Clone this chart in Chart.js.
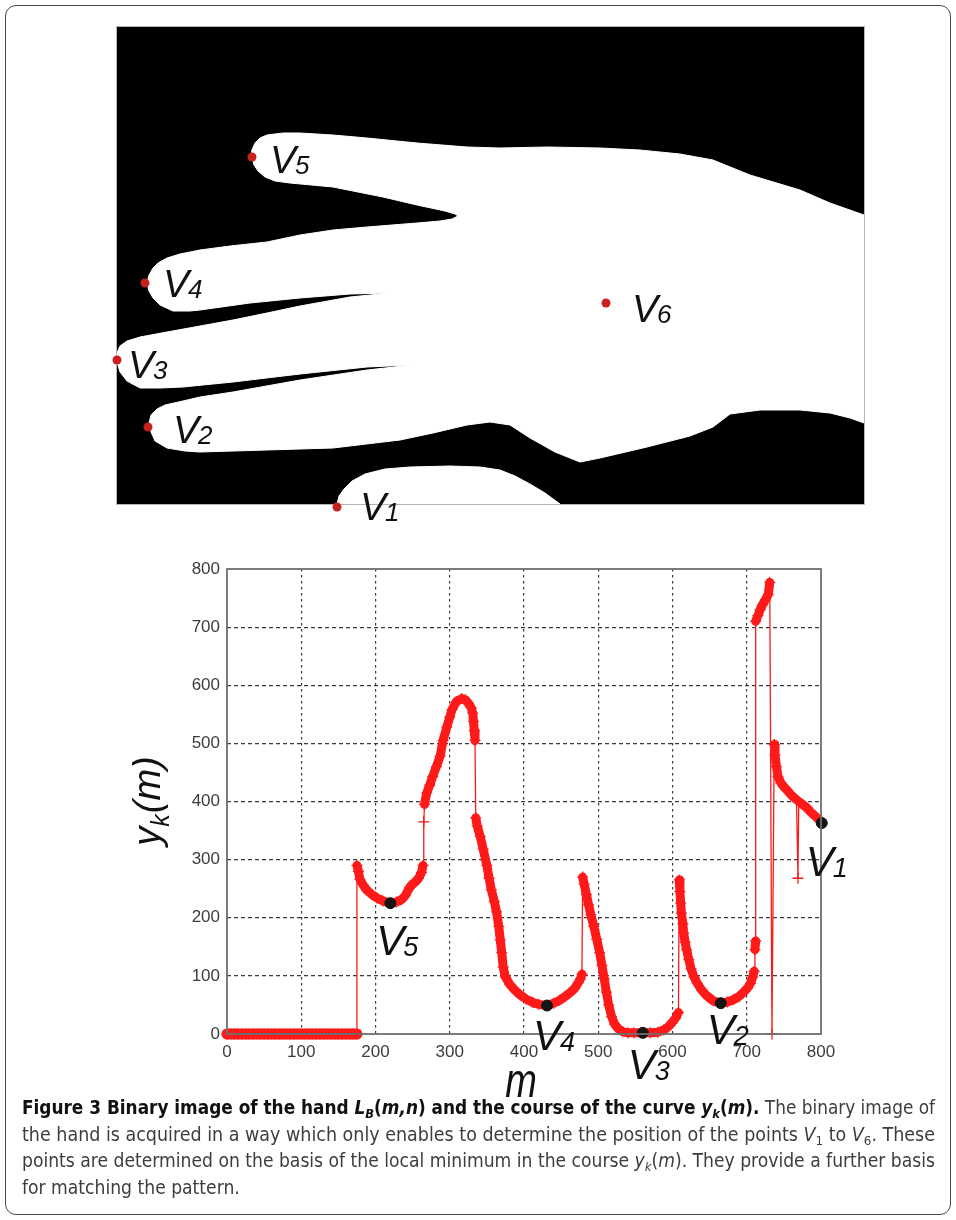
<!DOCTYPE html>
<html>
<head>
<meta charset="utf-8">
<script src="https://cdn.jsdelivr.net/npm/chart.js@4.4.0/dist/chart.umd.min.js"></script>
<style>
    html, body { margin: 0; padding: 0; background: #fff; }
    body { width: 956px; height: 1220px; position: relative; overflow: hidden; font-family: "Liberation Sans", Arial, sans-serif; }
    #frame { position: absolute; left: 5px; top: 5px; width: 946px; height: 1210px; border: 1.5px solid #4a4a4a; border-radius: 11px; box-sizing: border-box; }
    #handWrap { position: absolute; left: 100px; top: 20px; width: 800px; height: 510px; }
    #curveWrap { position: absolute; left: 100px; top: 540px; width: 800px; height: 570px; }
    #caption { position: absolute; left: 22px; top: 1094px; width: 930px; font-family: "Liberation Sans Narrow", "DejaVu Sans Condensed", "Liberation Sans", sans-serif; font-size: 19px; line-height: 26.7px; color: #3d3d3d; }
    #caption .ln { white-space: nowrap; display: block; width: max-content; transform-origin: 0 0; }
    #caption b { color: #111; }
    #caption sub { font-size: 0.68em; vertical-align: -0.28em; line-height: 0; }
</style>
</head>
<body>
<div id="frame"></div>
<div id="handWrap"><canvas id="handChart"></canvas></div>
<div id="curveWrap"><canvas id="curveChart"></canvas></div>
<div id="caption">
    <span class="ln full"><b>Figure 3 Binary image of the hand <i>L</i><sub><i>B</i></sub>(<i>m,n</i>) and the course of the curve <i>y</i><sub><i>k</i></sub>(<i>m</i>).</b> The binary image of</span>
    <span class="ln full">the hand is acquired in a way which only enables to determine the position of the points <i>V</i><sub>1</sub> to <i>V</i><sub>6</sub>. These</span>
    <span class="ln full">points are determined on the basis of the local minimum in the course <i>y</i><sub><i>k</i></sub>(<i>m</i>). They provide a further basis</span>
    <span class="ln">for matching the pattern.</span>
</div>

<script>
// ---- binary hand image (pixel coords inside the 747x477 image) ----
const handOutlineX = [747, 713, 683, 663, 633, 596, 563, 523, 483, 430, 383, 350, 300, 250, 216, 183, 166, 150, 143, 138, 135, 135, 137, 141, 148, 158, 173, 216, 266, 300, 328, 338, 341, 335, 323, 300, 250, 216, 183, 150, 113, 83, 63, 50, 41, 36, 32, 30, 32, 36, 43, 56, 73, 83, 133, 183, 233, 273, 233, 183, 150, 116, 83, 50, 23, 10, 3, 0, 0, 3, 10, 23, 43, 66, 116, 183, 250, 295, 250, 183, 116, 83, 66, 48, 40, 34, 32, 34, 38, 50, 68, 83, 150, 216, 283, 316, 350, 373, 393, 413, 438, 463, 483, 530, 573, 596, 613, 643, 683, 713, 733, 747, 747];
const handOutlineY = [188, 176, 163, 157, 148, 133, 127, 123, 121, 120, 121, 120, 116, 111, 108, 106, 106, 108, 111, 116, 123, 130, 138, 144, 150, 154, 156, 160, 170, 178, 184, 187, 189, 192, 194, 196, 200, 203, 208, 215, 219, 223, 227, 231, 236, 241, 248, 256, 264, 271, 278, 284, 284, 283, 276, 271, 267, 266, 270, 279, 286, 293, 299, 305, 310, 314, 319, 326, 335, 345, 354, 361, 361, 360, 355, 347, 340, 338, 343, 353, 365, 370, 374, 378, 382, 388, 396, 405, 414, 421, 424, 425, 423, 421, 413, 406, 398, 395, 398, 411, 425, 435, 431, 420, 409, 400, 387, 383, 383, 386, 391, 396, 188];
const thumbX = [220, 222, 227, 235, 248, 268, 293, 333, 363, 383, 398, 413, 428, 443, 220];
const thumbY = [477, 469, 462, 454, 447, 442, 440, 439, 440, 443, 449, 457, 466, 477, 477];
const handPointNames = ['5', '4', '3', '2', '1', '6'];
const handPointX = [135, 28, 0, 31, 220, 489];
const handPointY = [130, 256, 333, 400, 480, 276];

// ---- curve y_k(m) ----
const curveM = [0, 5, 10, 15, 20, 25, 30, 35, 40, 45, 50, 55, 60, 65, 70, 75, 80, 85, 90, 95, 100, 105, 110, 115, 120, 125, 130, 135, 140, 145, 150, 155, 160, 165, 170, 175,
    175, 177, 179, 183, 188, 195, 202, 210, 220, 228, 235, 240, 246, 250, 254, 258, 262, 264,
    265, 266, 269, 273, 277, 282, 287, 291, 296, 300, 303, 309, 316, 321, 325, 329, 331, 332, 333, 334,
    335, 337, 341, 345, 350, 353, 356, 360, 363, 366, 368, 370, 372, 375, 381, 388, 395, 403, 412, 420, 431, 440, 448, 455, 462, 468, 473, 476, 478,
    479, 481, 484, 487, 490, 494, 498, 502, 505, 508, 511, 514, 518, 522, 527, 533, 540, 548, 560, 570, 580, 588, 594, 599, 604, 608,
    609, 610, 611, 612, 614, 615, 617, 619, 622, 625, 629, 633, 639, 646, 655, 665, 674, 682, 689, 695, 701, 705, 708, 710, 711, 712,
    712, 715, 718, 721, 725, 729, 731, 734,
    737, 738, 740, 742, 746, 750, 754, 760, 767, 769, 770, 775, 781, 786, 792, 797, 801];
const curveY = [0, 0, 0, 0, 0, 0, 0, 0, 0, 0, 0, 0, 0, 0, 0, 0, 0, 0, 0, 0, 0, 0, 0, 0, 0, 0, 0, 0, 0, 0, 0, 0, 0, 0, 0, 0,
    290, 280, 266, 257, 248, 240, 234, 229, 225, 227, 231, 238, 252, 258, 262, 268, 278, 290,
    365, 395, 415, 428, 443, 460, 478, 505, 528, 545, 558, 572, 577, 575, 569, 561, 552, 538, 522, 505,
    372, 358, 340, 318, 290, 268, 248, 228, 210, 185, 162, 140, 115, 98, 85, 75, 67, 60, 54, 51, 49, 53, 58, 64, 71, 78, 88, 95, 103,
    270, 258, 240, 222, 205, 185, 163, 140, 118, 95, 72, 50, 30, 17, 9, 4, 2, 2, 2, 2, 3, 7, 12, 19, 27, 37,
    265, 245, 225, 208, 190, 174, 158, 145, 128, 112, 98, 88, 76, 66, 57, 53, 55, 59, 64, 71, 79, 87, 98, 108, 145, 160,
    710, 720, 730, 738, 747, 756, 777, 0,
    498, 480, 460, 443, 432, 425, 420, 411, 403, 268, 400, 395, 389, 382, 375, 369, 363];
const minimaNames = ['5', '4', '3', '2', '1'];
const minimaM = [220, 431, 560, 665, 801];
const minimaY = [225, 49, 2, 53, 363];
const tickValues = [0, 100, 200, 300, 400, 500, 600, 700, 800];

// label placement (pixel offsets from the marked point: left edge, baseline)
const handLabelOffset = { '5': [18, 16], '4': [18, 14], '3': [11, 18], '2': [25, 16], '1': [23, 13], '6': [26, 19] };
const curveLabelOffset = { '5': [-14, 52], '4': [-14, 44], '3': [-15, 46], '2': [-14, 41], '1': [-16, 53] };

const FONT = '"Liberation Sans", Arial, sans-serif';

function drawV(ctx, x, y, digit, big, small) {
    ctx.font = `italic ${big}px ${FONT}`;
    ctx.fillText('V', x, y);
    const w = ctx.measureText('V').width;
    ctx.font = `italic ${small}px ${FONT}`;
    ctx.fillText(digit, x + w - 1, y + 1);
}

const handPlugin = {
    id: 'handDecor',
    beforeDatasetsDraw(chart) {
        const { ctx, chartArea: a } = chart;
        ctx.save();
        ctx.fillStyle = '#000';
        ctx.fillRect(a.left, a.top, a.right - a.left, a.bottom - a.top);
        ctx.strokeStyle = '#b5b5b5';
        ctx.lineWidth = 1;
        ctx.strokeRect(a.left - 0.5, a.top - 0.5, a.right - a.left + 1, a.bottom - a.top + 1);
        ctx.restore();
    },
    afterDatasetsDraw(chart) {
        const { ctx, scales: { x, y } } = chart;
        ctx.save();
        ctx.fillStyle = '#111';
        ctx.textBaseline = 'alphabetic';
        handPointNames.forEach((n, i) => {
            const off = handLabelOffset[n];
            drawV(ctx, x.getPixelForValue(handPointX[i]) + off[0], y.getPixelForValue(handPointY[i]) + off[1], n, 39, 26);
        });
        ctx.restore();
    }
};

new Chart(document.getElementById('handChart'), {
    type: 'line',
    data: {
        datasets: [
            {
                label: 'points',
                data: handPointX.map((v, i) => ({ x: v, y: handPointY[i] })),
                showLine: false,
                pointRadius: 4.5,
                pointBackgroundColor: '#c8201e',
                pointBorderColor: '#c8201e',
                pointBorderWidth: 0,
                clip: false,
                order: 0
            },
            {
                label: 'hand',
                data: handOutlineX.map((v, i) => ({ x: v, y: handOutlineY[i] })),
                borderColor: '#fff',
                backgroundColor: '#fff',
                borderWidth: 1,
                pointRadius: 0,
                fill: 'shape',
                tension: 0,
                order: 1
            },
            {
                label: 'thumb',
                data: thumbX.map((v, i) => ({ x: v, y: thumbY[i] })),
                borderColor: '#fff',
                backgroundColor: '#fff',
                borderWidth: 1,
                pointRadius: 0,
                fill: 'shape',
                tension: 0,
                order: 1
            }
        ]
    },
    options: {
        responsive: true,
        maintainAspectRatio: false,
        animation: false,
        layout: { padding: { left: 17, top: 7, right: 36, bottom: 26 } },
        plugins: { legend: { display: false }, tooltip: { enabled: false } },
        scales: {
            x: { type: 'linear', min: 0, max: 747, display: false },
            y: { type: 'linear', min: 0, max: 477, reverse: true, display: false }
        }
    },
    plugins: [handPlugin]
});

const curvePlugin = {
    id: 'curveDecor',
    afterDatasetsDraw(chart) {
        const { ctx, chartArea: a, scales: { x, y } } = chart;
        ctx.save();
        // plot box
        ctx.strokeStyle = '#6e6e6e';
        ctx.lineWidth = 1.8;
        ctx.strokeRect(a.left, a.top, a.right - a.left, a.bottom - a.top);

        ctx.fillStyle = '#111';
        ctx.textBaseline = 'alphabetic';
        minimaNames.forEach((n, i) => {
            const off = curveLabelOffset[n];
            drawV(ctx, x.getPixelForValue(minimaM[i]) + off[0], y.getPixelForValue(minimaY[i]) + off[1], n, 42, 27);
        });

        // x title
        ctx.save();
        ctx.translate((a.left + a.right) / 2 - 3, a.bottom + 63);
        ctx.scale(1, 1.25);
        ctx.font = `italic 38px ${FONT}`;
        ctx.textAlign = 'center';
        ctx.fillText('m', 0, 0);
        ctx.restore();

        // y title  y_k(m)
        ctx.save();
        ctx.translate(a.left - 67, (a.top + a.bottom) / 2);
        ctx.rotate(-Math.PI / 2);
        const big = `italic 38px ${FONT}`, small = `italic 25px ${FONT}`;
        ctx.font = big; const w1 = ctx.measureText('y').width;
        const w3 = ctx.measureText('(m)').width;
        ctx.font = small; const w2 = ctx.measureText('k').width;
        let px = -(w1 + w2 + w3) / 2;
        ctx.font = big; ctx.fillText('y', px, 0); px += w1;
        ctx.font = small; ctx.fillText('k', px, 9); px += w2 + 1;
        ctx.font = big; ctx.fillText('(m)', px, 0);
        ctx.restore();
        ctx.restore();
    }
};

const gridColor = c => (c.tick && (c.tick.value === 0 || c.tick.value === 800)) ? 'rgba(0,0,0,0)' : '#3a3a3a';

new Chart(document.getElementById('curveChart'), {
    type: 'line',
    data: {
        datasets: [
            {
                label: 'minima',
                data: minimaM.map((v, i) => ({ x: v, y: minimaY[i] })),
                showLine: false,
                pointRadius: 5.5,
                pointBackgroundColor: '#151515',
                pointBorderColor: '#151515',
                clip: false,
                order: 0
            },
            {
                label: 'y_k(m)',
                data: curveM.map((v, i) => ({ x: v, y: curveY[i] })),
                borderColor: '#ff1a1a',
                borderWidth: 9,
                borderJoinStyle: 'round',
                borderCapStyle: 'round',
                pointStyle: 'cross',
                pointRadius: 5.5,
                pointBorderWidth: 1.3,
                pointBorderColor: '#ff1a1a',
                tension: 0,
                clip: false,
                order: 1,
                segment: {
                    borderWidth: ctx => {
                        const dm = Math.abs(ctx.p1.parsed.x - ctx.p0.parsed.x);
                        const dy = Math.abs(ctx.p1.parsed.y - ctx.p0.parsed.y);
                        if (dy / Math.max(dm, 0.5) > 25) return 1.3;
                        return (ctx.p0.parsed.y === 0 && ctx.p1.parsed.y === 0) ? 11 : 9;
                    }
                }
            }
        ]
    },
    options: {
        responsive: true,
        maintainAspectRatio: false,
        animation: false,
        layout: { padding: { left: 0, top: 29, right: 79, bottom: 0 } },
        plugins: { legend: { display: false }, tooltip: { enabled: false } },
        scales: {
            x: {
                type: 'linear', min: 0, max: 800,
                afterBuildTicks: axis => { axis.ticks = tickValues.map(v => ({ value: v })); },
                afterFit: axis => { axis.height = 76; },
                grid: { color: gridColor, lineWidth: 1.2, drawTicks: false },
                border: { display: false, dash: [2.5, 3.5] },
                ticks: { padding: 8, color: '#3c3c3c', font: { family: FONT, size: 17 }, maxRotation: 0 }
            },
            y: {
                type: 'linear', min: 0, max: 800,
                afterBuildTicks: axis => { axis.ticks = tickValues.map(v => ({ value: v })); },
                afterFit: axis => { axis.width = 127; },
                grid: { color: gridColor, lineWidth: 1.2, drawTicks: false },
                border: { display: false, dash: [4, 3] },
                ticks: { padding: 7, color: '#3c3c3c', font: { family: FONT, size: 17 } }
            }
        }
    },
    plugins: [curvePlugin]
});

// caption: stretch the full lines to the justified width of the original
const capLines = document.querySelectorAll('#caption .ln');
let lastScale = 1;
capLines.forEach(el => {
    const w = el.getBoundingClientRect().width;
    if (el.classList.contains('full')) lastScale = 913 / w;
    el.style.transform = `scaleX(${lastScale})`;
});
</script>
</body>
</html>
